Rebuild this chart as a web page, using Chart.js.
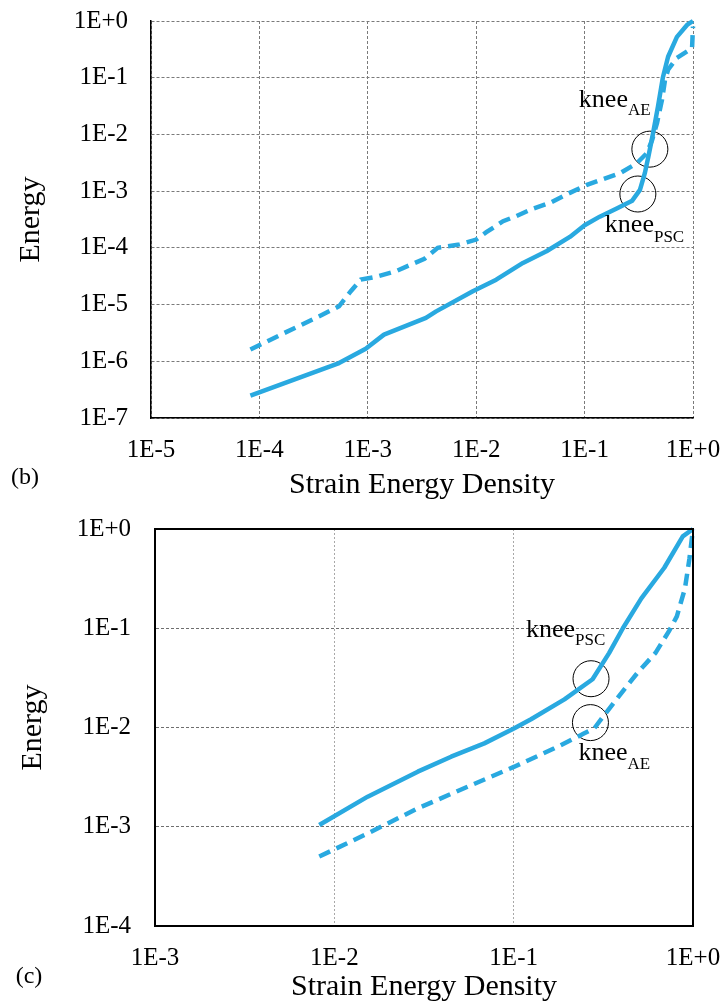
<!DOCTYPE html>
<html>
<head>
<meta charset="utf-8">
<script src="https://cdn.jsdelivr.net/npm/chart.js@4.4.0/dist/chart.umd.min.js"></script>
<style>
  html, body { margin: 0; padding: 0; background: #fff; }
  .panel { position: absolute; left: 0; width: 723px; }
  #panelB { top: 0; height: 500px; }
  #panelC { top: 500px; height: 505px; }
</style>
</head>
<body>
<div class="panel" id="panelB"><canvas id="chartB" width="723" height="500"></canvas></div>
<div class="panel" id="panelC"><canvas id="chartC" width="723" height="505"></canvas></div>
<script>
// ---- panel (b) ----
const sedB_psc    = [8.26e-5, 5.43e-4, 9.57e-4, 1.41e-3, 3.44e-3, 4.27e-3, 9.31e-3, 0.0153, 0.027, 0.0445, 0.0731,
                     0.1, 0.138, 0.2, 0.275, 0.324, 0.36, 0.387, 0.428, 0.475, 0.528, 0.589, 0.711, 0.881, 1.0];
const energyB_psc = [2.48e-7, 9.3e-7, 1.66e-6, 2.95e-6, 5.82e-6, 7.59e-6, 1.72e-5, 2.75e-5, 5.43e-5, 8.71e-5, 1.56e-4,
                     2.51e-4, 3.55e-4, 5.0e-4, 6.8e-4, 1.05e-3, 2.1e-3, 4.0e-3, 0.0105, 0.031, 0.102, 0.234, 0.525, 0.851, 1.0];
const sedB_ae     = [8.26e-5, 1.62e-4, 3.8e-4, 5.43e-4, 6.97e-4, 8.61e-4, 1.19e-3, 1.82e-3, 3.33e-3, 4.42e-3, 7.01e-3,
                     0.01, 0.0124, 0.0177, 0.0234, 0.0324, 0.0479, 0.0731, 0.105, 0.214, 0.302, 0.376, 0.419, 0.466,
                     0.518, 0.552, 0.589, 0.711, 0.98, 1.0];
const energyB_ae  = [1.61e-6, 3.02e-6, 6.61e-6, 9.33e-6, 1.72e-5, 2.75e-5, 3.09e-5, 3.89e-5, 6.4e-5, 1.0e-4, 1.15e-4,
                     1.4e-4, 1.89e-4, 2.95e-4, 3.63e-4, 4.79e-4, 6.22e-4, 9.33e-4, 1.29e-3, 2.09e-3, 3.09e-3, 4.7e-3, 7.9e-3, 0.016,
                     0.041, 0.091, 0.138, 0.224, 0.33, 0.8];
const kneeB_psc   = [0.31, 8.9e-4];
const kneeB_ae    = [0.40, 5.5e-3];
const xTicksB  = [1e-5, 1e-4, 1e-3, 1e-2, 1e-1, 1];
const xLabelsB = ['1E-5', '1E-4', '1E-3', '1E-2', '1E-1', '1E+0'];
const yTicksB  = [1e-7, 1e-6, 1e-5, 1e-4, 1e-3, 1e-2, 1e-1, 1];
const yLabelsB = ['1E-7', '1E-6', '1E-5', '1E-4', '1E-3', '1E-2', '1E-1', '1E+0'];

// ---- panel (c) ----
const sedC_psc    = [8.24e-3, 0.01535, 0.0292, 0.0448, 0.0686, 0.1009, 0.125, 0.1919, 0.2754,
                     0.3404, 0.4064, 0.5152, 0.6918, 0.877, 1.0];
const energyC_psc = [1.04e-3, 2.01e-3, 3.59e-3, 5.08e-3, 6.92e-3, 9.82e-3, 0.0121, 0.0192, 0.0306,
                     0.0562, 0.1, 0.2, 0.407, 0.843, 1.0];
const sedC_ae     = [8.24e-3, 0.01535, 0.0292, 0.0553, 0.1009, 0.1687, 0.2477, 0.2818, 0.3006,
                     0.3837, 0.4898, 0.6166, 0.7345, 0.8128, 0.9016, 0.955, 1.0];
const energyC_ae  = [5.01e-4, 8.57e-4, 1.53e-3, 2.53e-3, 4.03e-3, 6.17e-3, 8.73e-3, 9.82e-3, 0.0115,
                     0.0204, 0.0355, 0.0562, 0.0933, 0.1318, 0.251, 0.501, 1.0];
const kneeC_psc   = [0.27, 0.031];
const kneeC_ae    = [0.268, 0.0112];
const xTicksC  = [1e-3, 1e-2, 1e-1, 1];
const xLabelsC = ['1E-3', '1E-2', '1E-1', '1E+0'];
const yTicksC  = [1e-4, 1e-3, 1e-2, 1e-1, 1];
const yLabelsC = ['1E-4', '1E-3', '1E-2', '1E-1', '1E+0'];

const BLUE  = '#29A9E0';
const SERIF = '"Liberation Serif", "Times New Roman", serif';

Chart.defaults.font.family = SERIF;
Chart.defaults.color = '#000';

const pts = (xs, ys) => xs.map((v, i) => ({ x: v, y: ys[i] }));

// frame, panel tag and knee labels
const annotate = {
  id: 'annotate',
  afterDraw(chart, args, opts) {
    const { ctx, chartArea: a, scales: { x, y } } = chart;
    ctx.save();
    if (opts.frame) {
      ctx.lineWidth = 2;
      ctx.strokeStyle = '#000';
      ctx.strokeRect(a.left, a.top, a.right - a.left, a.bottom - a.top);
    }
    ctx.fillStyle = '#000';
    ctx.textAlign = 'left';
    ctx.textBaseline = 'alphabetic';
    opts.knees.forEach(k => {
      const px = x.getPixelForValue(k.at[0]) + k.dx;
      const py = y.getPixelForValue(k.at[1]) + k.dy;
      ctx.font = '26px ' + SERIF;
      ctx.fillText('knee', px, py);
      const w = ctx.measureText('knee').width;
      ctx.font = '17px ' + SERIF;
      ctx.fillText(k.sub, px + w, py + k.subDy);
    });
    ctx.font = '24px ' + SERIF;
    ctx.textAlign = 'center';
    ctx.textBaseline = 'middle';
    ctx.fillText(opts.tag, opts.tagX, opts.tagY);
    ctx.restore();
  }
};

function decadeAxis(ticks, labels, o) {
  return {
    type: 'logarithmic',
    min: ticks[0],
    max: ticks[ticks.length - 1],
    afterBuildTicks: s => { s.ticks = ticks.map(v => ({ value: v })); },
    afterFit: s => {
      if (o.w) s.width = o.w;
      if (o.h) s.height = o.h;
      // layout padding alone decides where the plot sits
      s.paddingTop = s.paddingBottom = s.paddingLeft = s.paddingRight = 0;
    },
    ticks: {
      callback: (v, i) => labels[i],
      padding: o.pad, autoSkip: false, maxRotation: 0,
      color: '#000', font: { size: 25 }
    },
    grid: { color: o.gridColor, drawTicks: false, lineWidth: 1 },
    border: { display: true, color: '#000', width: o.bw, dash: o.dash },
    title: {
      display: true, text: o.title, color: '#000',
      font: { size: 30, lineHeight: 1 }, padding: 0
    }
  };
}

function makePanel(id, d) {
  return new Chart(document.getElementById(id), {
    type: 'scatter',
    data: {
      datasets: [
        { data: d.psc, showLine: true, borderColor: BLUE, borderWidth: 4.5, pointRadius: 0,
          borderJoinStyle: 'round', clip: false },
        { data: d.ae, showLine: true, borderColor: BLUE, borderWidth: 4.5, pointRadius: 0,
          borderDash: [12, 7], clip: false },
        { data: d.knees, showLine: false, pointRadius: 18, pointHoverRadius: 18,
          pointBorderColor: '#000', pointBorderWidth: 1, pointBackgroundColor: 'rgba(0,0,0,0)' }
      ]
    },
    options: {
      responsive: false,
      animation: false,
      events: [],
      layout: { padding: d.padding },
      plugins: { legend: { display: false }, tooltip: { enabled: false }, annotate: d.annotate },
      scales: { x: d.x, y: d.y }
    },
    plugins: [annotate]
  });
}

makePanel('chartB', {
  psc: pts(sedB_psc, energyB_psc),
  ae: pts(sedB_ae, energyB_ae),
  knees: [{ x: kneeB_psc[0], y: kneeB_psc[1] }, { x: kneeB_ae[0], y: kneeB_ae[1] }],
  padding: { left: 16, top: 21, right: 30, bottom: 0 },
  x: decadeAxis(xTicksB, xLabelsB, { h: 82, pad: 17, gridColor: '#7a7a7a', dash: [3, 2], bw: 1.5,
                                     title: 'Strain Energy Density' }),
  y: decadeAxis(yTicksB, yLabelsB, { w: 135, pad: 23, gridColor: '#7a7a7a', dash: [3, 2], bw: 1.5,
                                     title: 'Energy' }),
  annotate: {
    frame: false, tag: '(b)', tagX: 25, tagY: 478,
    knees: [
      { at: kneeB_ae,  sub: 'AE',  dx: -71, dy: -42, subDy: 8 },
      { at: kneeB_psc, sub: 'PSC', dx: -33, dy: 38,  subDy: 10 }
    ]
  }
});

makePanel('chartC', {
  psc: pts(sedC_psc, energyC_psc),
  ae: pts(sedC_ae, energyC_ae),
  knees: [{ x: kneeC_psc[0], y: kneeC_psc[1] }, { x: kneeC_ae[0], y: kneeC_ae[1] }],
  padding: { left: 18, top: 29, right: 30, bottom: 3 },
  x: decadeAxis(xTicksC, xLabelsC, { h: 76, pad: 17, gridColor: '#a8a8a8', dash: [2, 2], bw: 2,
                                     title: 'Strain Energy Density' }),
  y: decadeAxis(yTicksC, yLabelsC, { w: 137, pad: 24, gridColor: '#6e6e6e', dash: [3, 2], bw: 2,
                                     title: 'Energy' }),
  annotate: {
    frame: true, tag: '(c)', tagX: 29, tagY: 477,
    knees: [
      { at: kneeC_psc, sub: 'PSC', dx: -65, dy: -42, subDy: 8 },
      { at: kneeC_ae,  sub: 'AE',  dx: -12, dy: 37,  subDy: 9 }
    ]
  }
});
</script>
</body>
</html>
